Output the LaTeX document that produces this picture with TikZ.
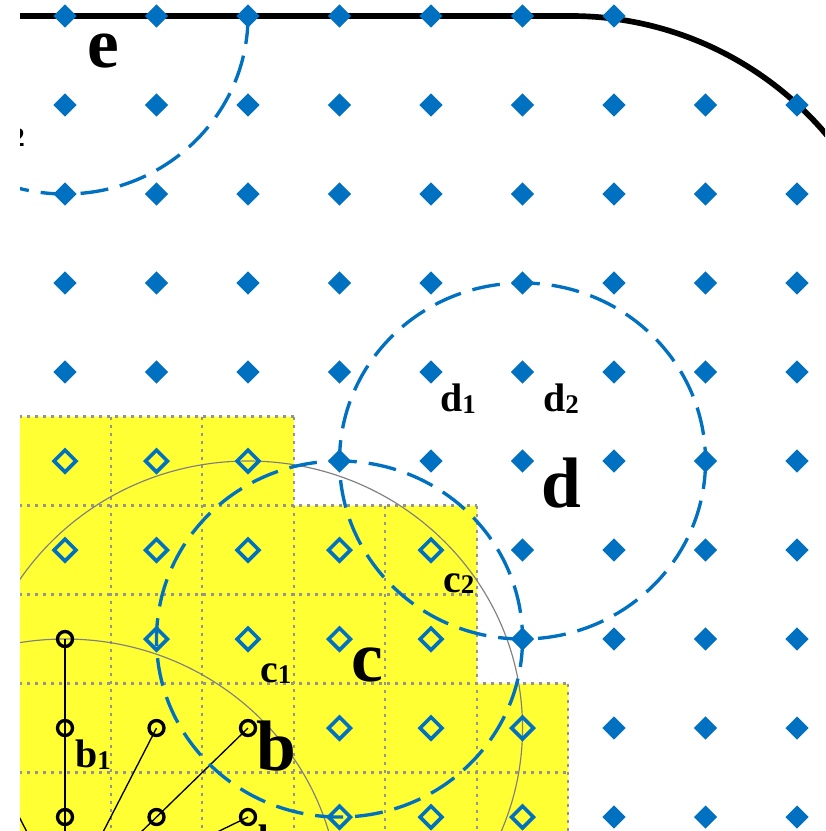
\documentclass[tikz,border=0pt]{standalone}
\usepackage{fontspec}
\setmainfont{Liberation Serif}
\usetikzlibrary{shapes.geometric}
\definecolor{ptblue}{HTML}{0070C0}
\definecolor{cellyellow}{HTML}{FFFF33}
\newcommand{\lab}[2]{#1{\fontsize{23}{23}\selectfont\raisebox{-1pt}{#2}}}

\begin{document}
\begin{tikzpicture}[
  x={(2.745cm,0)}, y={(0,-2.67cm)},
  pt/.style={diamond, fill=ptblue, inner sep=0pt, minimum size=0.7cm},
  ptin/.style={diamond, draw=ptblue, line width=0.11cm, inner sep=0pt, minimum size=0.7cm},
  nb/.style={circle, draw=black, line width=0.1cm, inner sep=0pt, minimum size=0.45cm},
  ring/.style={draw=ptblue, line width=0.1cm, dash pattern=on 0.84cm off 0.36cm},
  cutoff/.style={draw=gray, line width=0.035cm},
  cellline/.style={draw=gray!85, line width=0.07cm, dash pattern=on 0.09cm off 0.15cm},
  wall/.style={draw=black, line width=0.17cm},
  stencil/.style={draw=black, line width=0.04cm},
  big/.style={inner sep=0pt, anchor=base west, font=\bfseries\fontsize{61}{61}\selectfont},
  small/.style={inner sep=0pt, anchor=base west, font=\bfseries\fontsize{34}{34}\selectfont}
]
\useasboundingbox (-0.7104,-0.1798) rectangle (8.306,9.157);
\clip (-0.4918,-0.1798) rectangle (8.306,9.157);

\fill[cellyellow] (-0.5,4.5) -- (2.5,4.5) -- (2.5,5.5) -- (4.5,5.5) -- (4.5,7.5)
  -- (5.5,7.5) -- (5.5,10) -- (-0.5,10) -- cycle;
\foreach \x/\ya/\yb in {-0.5/4.5/10, 0.5/4.5/10, 1.5/4.5/10, 2.5/4.5/10, 3.5/5.5/10, 4.5/5.5/10, 5.5/7.5/10}
  \draw[cellline] (\x,\ya) -- (\x,\yb);
\foreach \y/\xb in {4.5/2.5, 5.5/4.5, 6.5/4.5, 7.5/5.5, 8.5/5.5, 9.5/5.5}
  \draw[cellline] (-0.5,\y) -- (\xb,\y);

\draw[cutoff] (0,10) circle [radius=3];
\draw[cutoff] (2,8) circle [radius=3];

\coordinate (b0) at (0,10);
\coordinate (bl) at (-1,8);
\foreach \i/\j in {0/7, 0/8, 1/8, 2/8, 0/9, 1/9, 2/9}
  \node[nb] (b-\i-\j) at (\i,\j) {};
\draw[stencil] (b0) -- (b-0-7.center);
\draw[stencil] (b0) -- (b-1-8.center);
\draw[stencil] (b0) -- (b-2-8.center);
\draw[stencil] (b0) -- (b-2-9.center);
\draw[stencil] (b0) -- (bl);

\draw[wall] (-1,0) -- (5.53,0) arc [start angle=-90, end angle=-30, x radius=3.65, y radius=3.75];

\foreach \j/\ia/\ib in {0/0/6, 1/0/8, 2/0/8, 3/0/8, 4/0/8, 5/3/8, 6/5/8, 7/5/8, 8/6/8, 9/6/8}
  \foreach \i in {\ia,...,\ib}
    \node[pt] (p-\i-\j) at (\i,\j) {};
\foreach \j/\ia/\ib in {5/0/2, 6/0/4, 7/1/4, 8/3/5, 9/3/5}
  \foreach \i in {\ia,...,\ib}
    \node[ptin] (q-\i-\j) at (\i,\j) {};

\draw[ring] (2,0) arc [start angle=0, end angle=180, radius=2];
\draw[ring] (5,5) circle [radius=2];
\draw[ring] (3,7) circle [radius=2];

\node[big] (lab-e) at (0.240,0.584) {e};
\node[big] (lab-b) at (2.087,8.472) {b};
\node[big] (lab-c) at (3.126,7.472) {c};
\node[big] (lab-d) at (5.202,5.517) {d};
\node[small] (lab-d1) at (4.098,4.449) {\lab{d}{1}};
\node[small] (lab-d2) at (5.224,4.449) {\lab{d}{2}};
\node[small] (lab-c1) at (2.131,7.483) {\lab{c}{1}};
\node[small] (lab-c2) at (4.131,6.472) {\lab{c}{2}};
\node[small] (lab-b1) at (0.109,8.449) {\lab{b}{1}};
\node[small] (lab-b2) at (2.109,9.404) {\lab{b}{2}};
\node[small, anchor=base east] (lab-e2) at (-0.437,1.449) {\lab{e}{2}};
\end{tikzpicture}
\end{document}
